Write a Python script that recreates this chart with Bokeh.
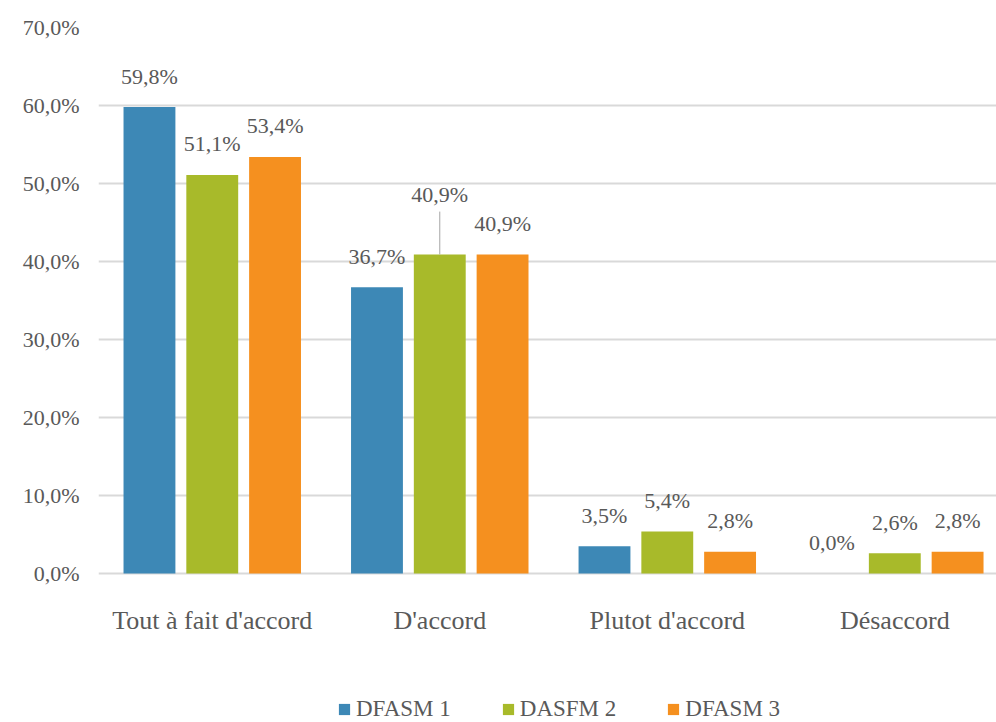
from bokeh.plotting import figure
from bokeh.models import (ColumnDataSource, Range1d, FixedTicker, LabelSet,
                          Legend, LegendItem)
from bokeh.embed import file_html
from bokeh.resources import INLINE

categories = ["Tout à fait d'accord", "D'accord", "Plutot d'accord", "Désaccord"]
series_names = ["DFASM 1", "DASFM 2", "DFASM 3"]
dfasm1 = [0.598, 0.367, 0.035, 0.000]
dasfm2 = [0.511, 0.409, 0.054, 0.026]
dfasm3 = [0.534, 0.409, 0.028, 0.028]
y_ticks = [0.0, 0.1, 0.2, 0.3, 0.4, 0.5, 0.6, 0.7]
y_tick_labels = ["0,0%", "10,0%", "20,0%", "30,0%", "40,0%", "50,0%", "60,0%", "70,0%"]

colors = ["#3d88b6", "#a8ba2a", "#f5901f"]
FONT = "Liberation Serif"
TXT = "#595959"

p = figure(width=996, height=722, output_backend="svg", toolbar_location=None,
           x_range=Range1d(0, 3.947), y_range=Range1d(-0.191, 0.70),
           min_border_left=98, min_border_right=0, min_border_top=27,
           min_border_bottom=0)
p.outline_line_color = None
p.background_fill_color = "white"
p.border_fill_color = "white"

offsets = [-0.276, 0.0, 0.276]
bar_w = 0.228
renderers = []
all_series = [dfasm1, dasfm2, dfasm3]
lab_x, lab_y, lab_t, lab_off = [], [], [], []
for s, (vals, col, off) in enumerate(zip(all_series, colors, offsets)):
    xs = [i + 0.5 + off for i in range(len(categories))]
    src = ColumnDataSource(dict(x=xs, top=vals))
    r = p.vbar(x="x", top="top", width=bar_w, source=src, fill_color=col,
               line_color=None)
    renderers.append(r)
    for i, v in enumerate(vals):
        lab_x.append(xs[i])
        lab_y.append(v)
        lab_t.append(f"{v*100:.1f}%".replace(".", ","))
        lab_off.append(60 if (s == 1 and i == 1) else 31)

# leader line for the displaced label
lx = 1 + 0.5 + offsets[1]
p.segment(x0=[lx], y0=[dasfm2[1]], x1=[lx], y1=[dasfm2[1] + 0.055],
          line_color="#a6a6a6", line_width=1)

lsrc = ColumnDataSource(dict(x=lab_x, y=lab_y, text=lab_t, off=lab_off))
labels = LabelSet(x="x", y="y", text="text", y_offset="off", source=lsrc,
                  text_align="center", text_baseline="middle",
                  text_font=FONT, text_font_size="22px", text_color=TXT)
p.add_layout(labels)

# category labels under the baseline
cat_x = [i + 0.5 for i in range(len(categories))]
csrc = ColumnDataSource(dict(x=cat_x, y=[0.0] * len(categories), text=categories))
cat_labels = LabelSet(x="x", y="y", text="text", y_offset=-47, source=csrc,
                      text_align="center", text_baseline="middle",
                      text_font=FONT, text_font_size="26px", text_color=TXT)
p.add_layout(cat_labels)

# axes
p.xaxis.visible = False
p.yaxis.ticker = FixedTicker(ticks=y_ticks)
p.yaxis.major_label_overrides = {t: l for t, l in zip(y_ticks, y_tick_labels)}
p.yaxis.axis_line_color = None
p.yaxis.major_tick_line_color = None
p.yaxis.minor_tick_line_color = None
p.yaxis.major_tick_out = 0
p.yaxis.major_tick_in = 0
p.yaxis.major_label_text_font = FONT
p.yaxis.major_label_text_font_size = "22px"
p.yaxis.major_label_text_color = TXT
p.yaxis.major_label_standoff = 19

p.xgrid.grid_line_color = None
p.ygrid.ticker = FixedTicker(ticks=y_ticks)
p.ygrid.grid_line_color = "#d9d9d9"
p.ygrid.grid_line_width = 2

legend = Legend(items=[LegendItem(label=n, renderers=[r]) for n, r in zip(series_names, renderers)],
                orientation="horizontal", location=(239, 0),
                glyph_width=14, glyph_height=14, label_standoff=5, spacing=50,
                padding=0, margin=0, border_line_color=None,
                background_fill_alpha=0, label_height=26)
legend.label_text_font = FONT
legend.label_text_font_size = "23px"
legend.label_text_color = TXT
p.add_layout(legend, "center")

open("out.html", "w").write(file_html(p, INLINE))
